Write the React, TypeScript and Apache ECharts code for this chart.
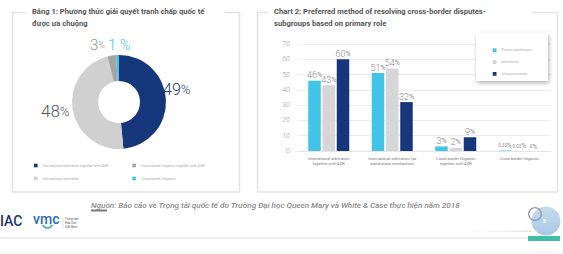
import React, { useEffect, useRef } from "react";
import * as echarts from "echarts";

const pieNames = [
  "International arbitration together with ADR",
  "International arbitration",
  "Cross-border litigation together with ADR",
  "Cross-border litigation",
];
const pieValues = [49, 48, 3, 1];
const pieLabels = ["49", "48", "3", "1 "];
const pieColors = ["#17377c", "#d0d0d0", "#a4a4a4", "#42c3e8"];
const pieLabelColors = ["#17377c", "#555555", "#8c8c8c", "#42c3e8"];
const pieLabelPos = [
  [163, 89],
  [41, 111],
  [90, 45],
  [108, 45],
];

const barCategories = [
  "International arbitration\ntogether with ADR",
  "International arbitration (as\nstand-alone mechanism)",
  "Cross-border litigation\ntogether with ADR",
  "Cross-border litigation",
];
const barSeriesNames = ["Private practitioners", "Arbitrations", "In-house counsel"];
const privateValues = [46, 51, 3, 0.33];
const arbitratorValues = [43, 54, 2, 0.03];
const inhouseValues = [60, 32, 9, 0];
const barColors = ["#42c3e8", "#d6d6d6", "#17377c"];
const yMin = 0;
const yMax = 70;
const yInterval = 10;

const titleLeft = "Bảng 1: Phương thức giải quyết tranh chấp quốc tế\nđược ưa chuộng";
const titleRight = "Chart 2: Preferred method of resolving cross-border disputes-\nsubgroups based on primary role";
const sourceText =
  "Nguồn: Báo cáo về Trọng tài quốc tế do Trường Đại học Queen Mary và White & Case thực hiện năm 2018";

export default function App() {
  const ref = useRef<HTMLDivElement>(null);
  useEffect(() => {
    document.body.style.margin = "0";
    const chart = echarts.init(ref.current!, undefined, { renderer: "svg" });
    const barLabel = {
      show: true,
      position: "top",
      distance: 1,
      formatter: (p: any) =>
        p.value < 1 ? `{s|${p.value}}{q|%}` : `{n|${p.value}}{p|%}`,
      rich: {
        n: { fontSize: 9, color: "#8a8a8a", fontFamily: "Roboto", fontWeight: 300 },
        p: { fontSize: 7, color: "#8a8a8a", fontFamily: "Roboto" },
        s: { fontSize: 4.5, color: "#8a8a8a", fontFamily: "Roboto" },
        q: { fontSize: 6.5, color: "#8a8a8a", fontFamily: "Roboto" },
      },
    };
    const titleStyle = {
      fill: "#555555",
      font: "bold 7.6px Roboto",
      lineHeight: 12,
    };
    const option: any = {
      animation: false,
      graphic: [
        {
          type: "rect",
          z: 0,
          shape: { x: 12.5, y: 12.5, width: 227, height: 179.5 },
          style: { fill: "none", stroke: "#e3e3e3", lineWidth: 1.5 },
        },
        {
          type: "rect",
          z: 0,
          shape: { x: 257.5, y: 12.5, width: 300, height: 179.5 },
          style: { fill: "none", stroke: "#e3e3e3", lineWidth: 1.5 },
        },
        {
          type: "rect",
          z: 1,
          shape: { x: 27, y: 8, width: 198, height: 9 },
          style: { fill: "#ffffff" },
        },
        {
          type: "rect",
          z: 1,
          shape: { x: 268, y: 8, width: 264, height: 9 },
          style: { fill: "#ffffff" },
        },
        {
          type: "text",
          z: 2,
          x: 32,
          y: 5,
          style: { ...titleStyle, text: titleLeft },
        },
        {
          type: "text",
          z: 2,
          x: 274,
          y: 5,
          style: { ...titleStyle, text: titleRight },
        },
        {
          type: "rect",
          z: 3,
          shape: { x: 476, y: 33, width: 72, height: 48 },
          style: {
            fill: "#ffffff",
            shadowBlur: 4,
            shadowColor: "rgba(0,0,0,0.3)",
            shadowOffsetX: 1,
            shadowOffsetY: 2,
          },
        },
        {
          type: "text",
          x: 91,
          y: 200.5,
          style: {
            text: sourceText,
            fill: "#8a8a8a",
            font: "italic 500 8.1px Roboto",
          },
        },
        {
          type: "rect",
          shape: { x: 91, y: 209.5, width: 16, height: 2 },
          style: { fill: "#7a7a7a" },
        },
        {
          type: "text",
          x: 0,
          y: 214,
          style: { text: "IAC", fill: "#1d3570", font: "500 14px Roboto" },
        },
        {
          type: "text",
          x: 33,
          y: 212,
          style: { text: "vmc", fill: "#2a6fb8", font: "500 14px Roboto" },
        },
        {
          type: "arc",
          shape: { cx: 47.5, cy: 223, r: 5, startAngle: 0.35, endAngle: Math.PI - 0.35 },
          style: { stroke: "#2fb49a", lineWidth: 1.5, fill: "none" },
        },
        {
          type: "line",
          shape: { x1: 63, y1: 217, x2: 63, y2: 229 },
          style: { stroke: "#cccccc", lineWidth: 0.6 },
        },
        {
          type: "text",
          x: 65,
          y: 216.5,
          style: {
            text: "Trung tâm\nHòa Giải\nViệt Nam",
            fill: "#555555",
            font: "3px Roboto",
            lineHeight: 4,
          },
        },
        {
          type: "line",
          shape: { x1: 0, y1: 238, x2: 528, y2: 238 },
          style: { stroke: "#dcdcdc", lineWidth: 1 },
        },
        {
          type: "line",
          shape: { x1: 0, y1: 252.5, x2: 563, y2: 252.5 },
          style: { stroke: "#f2f2f2", lineWidth: 1 },
        },
        {
          type: "rect",
          shape: { x: 470, y: 230.5, width: 62, height: 1.5 },
          style: {
            fill: new echarts.graphic.LinearGradient(0, 0, 1, 0, [
              { offset: 0, color: "rgba(230,230,230,0)" },
              { offset: 1, color: "rgba(225,225,225,1)" },
            ]),
          },
        },
        {
          type: "rect",
          shape: { x: 528, y: 236, width: 32, height: 5 },
          style: { fill: "#3fbfa6" },
        },
        {
          type: "circle",
          shape: { cx: 546, cy: 221, r: 14.5 },
          style: {
            fill: new echarts.graphic.LinearGradient(0, 0, 0, 1, [
              { offset: 0, color: "#c4daee" },
              { offset: 1, color: "#a9c9e6" },
            ]),
          },
        },
        {
          type: "circle",
          shape: { cx: 535, cy: 214, r: 6.3 },
          style: { fill: "none", stroke: "#8d97a5", lineWidth: 1.2 },
        },
        {
          type: "text",
          x: 544.5,
          y: 221,
          style: {
            text: "8",
            fill: "#ffffff",
            font: "bold 5px Roboto",
            align: "center",
            verticalAlign: "middle",
          },
        },
      ],
      legend: [
        {
          orient: "vertical",
          left: 29,
          top: 158.5,
          itemWidth: 3.6,
          itemHeight: 3.6,
          itemGap: 9,
          icon: "rect",
          data: [pieNames[0], pieNames[1]],
          textStyle: { fontSize: 3.5, color: "#aaaaaa", fontFamily: "Roboto", lineHeight: 4 },
        },
        {
          orient: "vertical",
          left: 127.3,
          top: 158.5,
          itemWidth: 3.6,
          itemHeight: 3.6,
          itemGap: 9,
          icon: "rect",
          data: [pieNames[2], pieNames[3]],
          textStyle: { fontSize: 3.5, color: "#aaaaaa", fontFamily: "Roboto", lineHeight: 4 },
        },
        {
          orient: "vertical",
          left: 487.7,
          top: 43.3,
          itemWidth: 3.8,
          itemHeight: 3.8,
          itemGap: 7.8,
          icon: "rect",
          z: 5,
          data: barSeriesNames,
          textStyle: { fontSize: 3.4, color: "#aaaaaa", fontFamily: "Roboto", lineHeight: 4 },
        },
      ],
      grid: { left: 297, right: 12, top: 44, bottom: 103 },
      xAxis: {
        type: "category",
        data: barCategories,
        axisLine: { lineStyle: { color: "#e4e4e4" } },
        axisTick: { show: false },
        axisLabel: {
          interval: 0,
          fontSize: 4,
          lineHeight: 5,
          color: "#777777",
          fontFamily: "Roboto",
          margin: 5,
        },
      },
      yAxis: {
        type: "value",
        min: yMin,
        max: yMax,
        interval: yInterval,
        axisLine: { show: false },
        axisTick: { show: false },
        splitLine: { lineStyle: { color: "#ececec", width: 1 } },
        axisLabel: { fontSize: 7, color: "#9a9a9a", fontFamily: "Roboto", fontWeight: 300, margin: 7 },
      },
      series: [
        {
          type: "pie",
          center: [119, 102],
          radius: [21, 47],
          startAngle: 90,
          clockwise: true,
          avoidLabelOverlap: false,
          label: {
            show: true,
            position: "outside",
            formatter: (p: any) => `{n${p.dataIndex}|${pieLabels[p.dataIndex]}}{p${p.dataIndex}|%}`,
            rich: {
              n0: { fontSize: 16, color: pieLabelColors[0], fontFamily: "Roboto", fontWeight: 300 },
              p0: { fontSize: 13, color: pieLabelColors[0], fontFamily: "Roboto", fontWeight: 300 },
              n1: { fontSize: 17, color: pieLabelColors[1], fontFamily: "Roboto", fontWeight: 300 },
              p1: { fontSize: 13, color: pieLabelColors[1], fontFamily: "Roboto", fontWeight: 300 },
              n2: { fontSize: 15, color: pieLabelColors[2], fontFamily: "Roboto", fontWeight: 300 },
              p2: { fontSize: 9, color: pieLabelColors[2], fontFamily: "Roboto", fontWeight: 300 },
              n3: { fontSize: 15, color: pieLabelColors[3], fontFamily: "Roboto", fontWeight: 300 },
              p3: { fontSize: 14, color: pieLabelColors[3], fontFamily: "Roboto", fontWeight: 300 },
            },
          },
          labelLine: { show: false },
          labelLayout: (p: any) => ({
            x: pieLabelPos[p.dataIndex][0],
            y: pieLabelPos[p.dataIndex][1],
            align: "left",
            verticalAlign: "middle",
          }),
          data: pieValues.map((v, i) => ({
            name: pieNames[i],
            value: v,
            itemStyle: { color: pieColors[i] },
          })),
        },
        {
          type: "bar",
          name: barSeriesNames[0],
          data: privateValues,
          barWidth: 12.5,
          barGap: "14%",
          itemStyle: { color: barColors[0] },
          label: barLabel,
        },
        {
          type: "bar",
          name: barSeriesNames[1],
          data: arbitratorValues,
          barWidth: 12.5,
          barGap: "14%",
          itemStyle: { color: barColors[1] },
          label: barLabel,
        },
        {
          type: "bar",
          name: barSeriesNames[2],
          data: inhouseValues,
          barWidth: 12.5,
          barGap: "14%",
          itemStyle: { color: barColors[2] },
          label: barLabel,
        },
      ],
    };
    chart.setOption(option);
    return () => chart.dispose();
  }, []);
  return <div ref={ref} style={{ width: 563, height: 254 }} />;
}
